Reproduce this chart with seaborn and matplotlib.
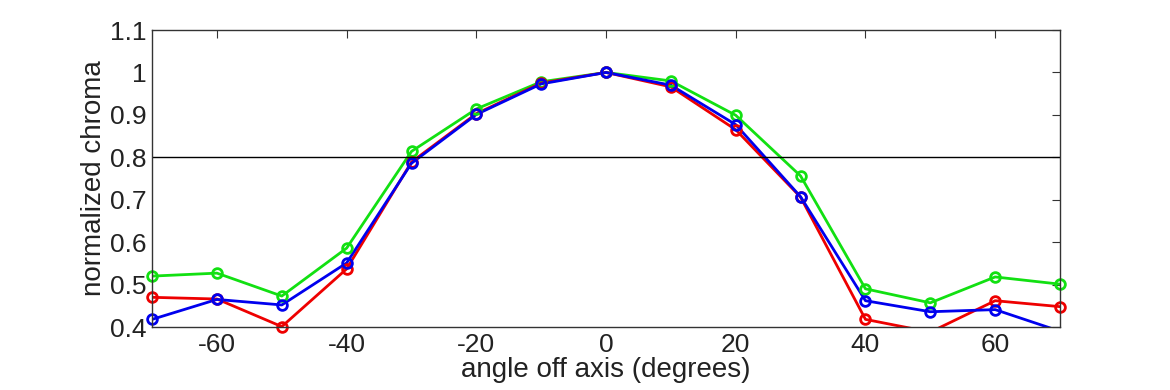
import numpy as np
import pandas as pd
import matplotlib
matplotlib.use("Agg")
import matplotlib.pyplot as plt
import seaborn as sns

angles = [-70, -60, -50, -40, -30, -20, -10, 0, 10, 20, 30, 40, 50, 60, 70]
green_vals = [0.520, 0.527, 0.473, 0.586, 0.814, 0.914, 0.978, 1.0, 0.980, 0.899, 0.756, 0.490, 0.457, 0.518, 0.501]
red_vals = [0.470, 0.466, 0.401, 0.537, 0.789, 0.903, 0.975, 1.0, 0.966, 0.865, 0.706, 0.418, 0.388, 0.462, 0.448]
blue_vals = [0.418, 0.465, 0.452, 0.551, 0.786, 0.901, 0.973, 1.0, 0.970, 0.877, 0.707, 0.462, 0.436, 0.441, 0.390]

series = ["green", "red", "blue"]
colors = {"green": "#12e012", "red": "#ee0000", "blue": "#0000ee"}

df = pd.concat([
    pd.DataFrame({"angle": angles, "chroma": vals, "channel": name})
    for name, vals in zip(series, [green_vals, red_vals, blue_vals])
])

sns.set_theme(style="white")
plt.rcParams["font.family"] = ["Liberation Sans", "DejaVu Sans"]
plt.rcParams["axes.unicode_minus"] = False

fig = plt.figure(figsize=(11.7, 3.9), dpi=100)
ax = fig.add_axes([0.13, 0.1615, 0.776, 0.7615])

# lines are clipped at the axes; markers are drawn only for points inside the limits
sns.lineplot(data=df, x="angle", y="chroma", hue="channel", palette=colors,
             hue_order=series, linewidth=2, legend=False, ax=ax)
inside = df[(df["chroma"] >= 0.4) & (df["chroma"] <= 1.1)]
n_before = len(ax.lines)
sns.lineplot(data=inside, x="angle", y="chroma", hue="channel", palette=colors,
             hue_order=series, linestyle="", marker="o", markersize=7,
             markerfacecolor="none", markeredgewidth=2, legend=False, ax=ax)
for line, name in zip(ax.lines[n_before:], series):
    line.set_markeredgecolor(colors[name])
    line.set_clip_on(False)

ax.axhline(0.8, color="black", linewidth=1)

ax.set_xlim(-70, 70)
ax.set_ylim(0.4, 1.1)
ax.set_xticks([-60, -40, -20, 0, 20, 40, 60])
ax.set_yticks(np.round(np.arange(0.4, 1.11, 0.1), 1))
ax.set_yticklabels(["0.4", "0.5", "0.6", "0.7", "0.8", "0.9", "1", "1.1"])
ax.tick_params(direction="in", top=True, right=True, length=6, width=0.8,
               labelsize=19, colors="#333333", labelcolor="#222222", pad=4)
for s in ax.spines.values():
    s.set_color("#333333")
    s.set_linewidth(1)
ax.set_xlabel("angle off axis (degrees)", fontsize=20, color="#222222", labelpad=0)
ax.set_ylabel("normalized chroma", fontsize=20, color="#222222", labelpad=2)

fig.savefig("out.png", dpi=100)
